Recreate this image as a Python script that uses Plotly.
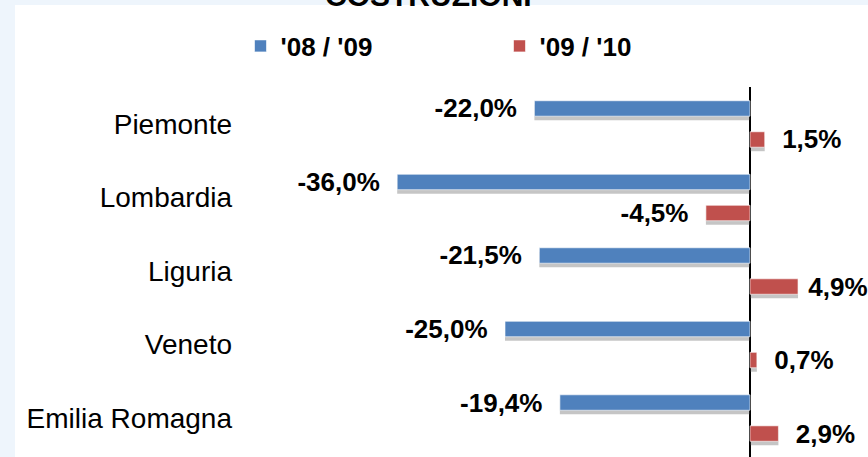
import plotly.graph_objects as go

categories = ["Piemonte", "Lombardia", "Liguria", "Veneto", "Emilia Romagna"]
series_names = ["'08 / '09", "'09 / '10"]
values_0809 = [-22.0, -36.0, -21.5, -25.0, -19.4]
values_0910 = [1.5, -4.5, 4.9, 0.7, 2.9]
title_text = "COSTRUZIONI"

NB = "\u00a0"


def fmt(v, pad=2):
    s = f"{v:.1f}".replace(".", ",") + "%"
    return (s + NB * pad) if v < 0 else (NB * pad + s)


labels_0809 = [fmt(v) for v in values_0809]
labels_0910 = [fmt(v, 1 if v > 4 else 2) for v in values_0910]

W, H = 868, 457
L, R, T, B = 240, 0, 87, 0
PW, PH = W - L - R, H - T - B
px_per_unit = 9.8
x_left = -(750 - L) / px_per_unit
x_right = (W - R - 750) / px_per_unit
y_range = [4.53, -0.503]
unit_px = PH / (y_range[0] - y_range[1])

blue = "#4f81bd"
red = "#c0504d"
shadow = "rgba(90,90,90,0.35)"
page_bg = "#eef5fc"
ffam = "Liberation Sans, Arial, sans-serif"
lab_font = dict(family=ffam, size=26, color="black", weight="bold")

fig = go.Figure()
# drop shadows (same data, drawn beneath the bars)
for vals, off in ((values_0809, -0.316), (values_0910, 0.106)):
    fig.add_trace(go.Bar(
        y=categories, x=vals, orientation="h", showlegend=False,
        marker=dict(color=shadow, line=dict(width=0)),
        offset=off + 4 / unit_px, width=0.21,
        hoverinfo="skip",
    ))
fig.add_trace(go.Bar(
    y=categories, x=values_0809, orientation="h", name=series_names[0],
    marker=dict(color=blue, line=dict(width=1, color="rgba(255,255,255,0.6)")),
    offset=-0.316, width=0.21,
    text=labels_0809, textposition="outside", textfont=lab_font,
    constraintext="none", cliponaxis=False, hoverinfo="skip",
))
fig.add_trace(go.Bar(
    y=categories, x=values_0910, orientation="h", name=series_names[1],
    marker=dict(color=red, line=dict(width=1, color="rgba(255,255,255,0.6)")),
    offset=0.106, width=0.21,
    text=labels_0910, textposition="outside", textfont=lab_font,
    constraintext="none", cliponaxis=False, hoverinfo="skip",
))

fig.update_layout(
    width=W, height=H,
    margin=dict(l=L, r=R, t=T, b=B, autoexpand=False),
    paper_bgcolor="white",
    plot_bgcolor="white",
    barmode="overlay",
    showlegend=True,
    legend=dict(
        orientation="h",
        x=(240.5 - L) / PW, xanchor="left",
        y=1 + (T - 46) / PH, yanchor="middle",
        font=dict(family=ffam, size=26, color="black", weight="bold"),
        entrywidth=214, entrywidthmode="pixels",
        bgcolor="rgba(0,0,0,0)", itemclick=False, itemdoubleclick=False,
    ),
    xaxis=dict(
        range=[x_left, x_right], showgrid=False, showticklabels=False,
        zeroline=True, zerolinecolor="black", zerolinewidth=1.5,
        showline=False, ticks="", fixedrange=True, automargin=False,
    ),
    yaxis=dict(
        range=y_range, showgrid=False, zeroline=False, showline=False,
        ticks="", ticklabelstandoff=7, fixedrange=True, automargin=False,
        tickfont=dict(family=ffam, size=28, color="black"),
    ),
    annotations=[
        dict(text=f"<b>{title_text}</b>", xref="paper", yref="paper",
             x=(428 - L) / PW, xanchor="center",
             y=1 + (T - 14) / PH, yanchor="bottom", showarrow=False,
             font=dict(family=ffam, size=30, color="black")),
    ],
    shapes=[
        dict(type="rect", xref="paper", yref="paper", layer="below",
             x0=-L / PW, x1=(15 - L) / PW,
             y0=0, y1=1 + T / PH, fillcolor=page_bg, line=dict(width=0)),
        dict(type="rect", xref="paper", yref="paper", layer="below",
             x0=-L / PW, x1=1,
             y0=1 + (T - 5) / PH, y1=1 + T / PH,
             fillcolor=page_bg, line=dict(width=0)),
    ],
)

fig.write_html(
    "out.html",
    config={"displayModeBar": False},
    post_script="document.body.style.margin='0';document.body.style.overflow='hidden';",
)
